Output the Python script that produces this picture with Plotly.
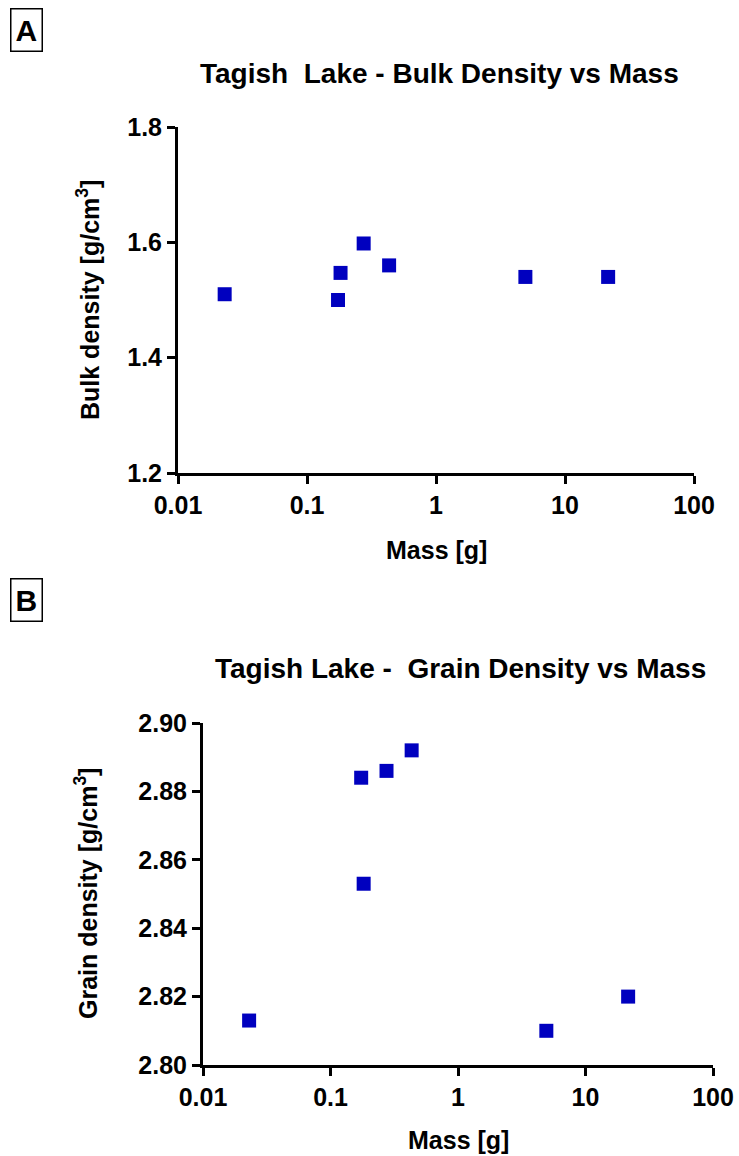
import plotly.graph_objects as go

# Data
mass_g = [0.023, 0.174, 0.182, 0.275, 0.433, 4.93, 21.6]
bulk_density = [1.51, 1.50, 1.547, 1.598, 1.56, 1.54, 1.54]
grain_density = [2.813, 2.884, 2.853, 2.886, 2.892, 2.81, 2.82]

x_tickvals = [0.01, 0.1, 1, 10, 100]
x_ticktext = ["0.01", "0.1", "1", "10", "100"]
bulk_ticks = [1.2, 1.4, 1.6, 1.8]
grain_ticks = [2.80, 2.82, 2.84, 2.86, 2.88, 2.90]

W, H = 739, 1156
FONT = "Liberation Sans, Arial, sans-serif"
MARK = "#0000BF"

def px(x):
    return x / W

def py(y):
    return 1 - y / H

fig = go.Figure()
fig.add_trace(go.Scatter(x=mass_g, y=bulk_density, mode="markers",
                         marker=dict(symbol="square", size=14, color=MARK, line=dict(width=0)),
                         xaxis="x", yaxis="y", showlegend=False))
fig.add_trace(go.Scatter(x=mass_g, y=grain_density, mode="markers",
                         marker=dict(symbol="square", size=14, color=MARK, line=dict(width=0)),
                         xaxis="x2", yaxis="y2", showlegend=False))

axis_common = dict(showline=True, linewidth=3, linecolor="black", ticks="outside",
                   ticklen=8, tickwidth=3, tickcolor="black", showgrid=False, zeroline=False,
                   automargin=False,
                   tickfont=dict(family=FONT, size=25, color="black", weight="bold"))

fig.update_layout(
    template="none",
    width=W, height=H, margin=dict(l=0, r=0, t=0, b=0, autoexpand=False),
    plot_bgcolor="white", paper_bgcolor="white",
    xaxis=dict(domain=[px(178), px(694)], type="log", range=[-2, 2],
               tickvals=x_tickvals, ticktext=x_ticktext, anchor="y", **axis_common),
    yaxis=dict(domain=[py(473), py(127)], range=[1.2, 1.8], tickvals=bulk_ticks,
               ticktext=["1.2", "1.4", "1.6", "1.8"], anchor="x", **axis_common),
    xaxis2=dict(domain=[px(203), px(713)], type="log", range=[-2, 2],
                tickvals=x_tickvals, ticktext=x_ticktext, anchor="y2", **axis_common),
    yaxis2=dict(domain=[py(1065), py(723)], range=[2.80, 2.90], tickvals=grain_ticks,
                ticktext=["%.2f" % v for v in grain_ticks], anchor="x2", **axis_common),
)

def ann(text, x, y, size, angle=0, **kw):
    fig.add_annotation(text=text, x=px(x), y=py(y), xref="paper", yref="paper",
                       showarrow=False, textangle=angle, xanchor="center", yanchor="middle",
                       font=dict(family=FONT, size=size, color="black", weight="bold"), **kw)

ann("Tagish  Lake - Bulk Density vs Mass", 439, 73, 28)
ann("Tagish Lake -  Grain Density vs Mass", 460, 668, 28)
ann("Bulk density [g/cm<sup>3</sup>]", 88, 300, 25, angle=-90)
ann("Grain density [g/cm<sup>3</sup>]", 86, 894, 25, angle=-90)
ann("Mass [g]", 436, 550, 25)
ann("Mass [g]", 458, 1140, 25)
ann("A", 26, 30, 30, bordercolor="black", borderwidth=1.5, borderpad=4)
ann("B", 26, 600, 30, bordercolor="black", borderwidth=1.5, borderpad=4)

fig.write_html("out.html")
